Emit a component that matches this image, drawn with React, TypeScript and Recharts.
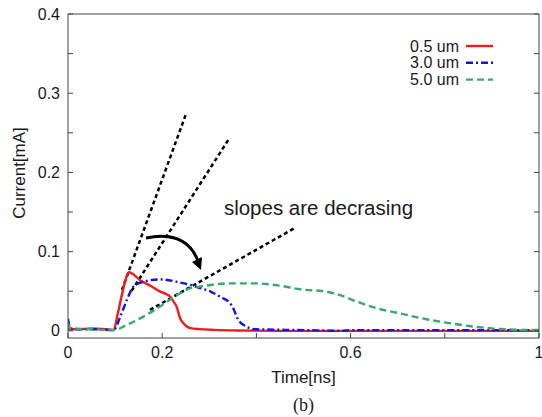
import { LineChart, Line, XAxis, YAxis, ReferenceLine, ReferenceDot, Legend, Customized, Label } from "recharts";

// 0.5 um
const t05 = [0, 0.02, 0.05, 0.08, 0.097, 0.105, 0.115, 0.122, 0.129, 0.135, 0.153, 0.175, 0.196, 0.21, 0.217, 0.224, 0.231, 0.238, 0.245, 0.26, 0.28, 0.31, 0.36, 0.45, 0.6, 0.8, 1.0];
const i05 = [0.002, 0.002, 0.003, 0.002, 0.001, 0.02, 0.047, 0.064, 0.074, 0.073, 0.064, 0.057, 0.0495, 0.046, 0.043, 0.037, 0.03, 0.016, 0.0097, 0.0035, 0.0022, 0.0013, 0.0005, 0, 0, 0, 0];
// 3.0 um
const t30 = [0, 0.005, 0.03, 0.06, 0.097, 0.111, 0.125, 0.139, 0.16, 0.196, 0.238, 0.26, 0.281, 0.305, 0.323, 0.344, 0.352, 0.358, 0.372, 0.4, 0.5, 0.58, 0.6, 0.8, 1.0];
const i30 = [0.015, 0.003, 0.002, 0.002, 0.001, 0.018, 0.039, 0.056, 0.062, 0.065, 0.061, 0.058, 0.054, 0.049, 0.043, 0.035, 0.027, 0.018, 0.0076, 0.002, 0.001, 0, 0.001, 0.001, 0.001];
// 5.0 um
const t50 = [0, 0.005, 0.05, 0.097, 0.125, 0.16, 0.196, 0.231, 0.26, 0.281, 0.344, 0.394, 0.45, 0.493, 0.549, 0.578, 0.613, 0.655, 0.705, 0.761, 0.81, 0.86, 0.895, 0.95, 1.0];
const i50 = [0.01, 0.003, 0.002, 0.001, 0.0076, 0.018, 0.031, 0.045, 0.054, 0.056, 0.06, 0.06, 0.057, 0.0525, 0.0495, 0.045, 0.037, 0.0286, 0.022, 0.0147, 0.0097, 0.0055, 0.0034, 0.0015, 0.001];

const xTicks = [0, 0.2, 0.4, 0.6, 0.8, 1];
const xLabels = [0, 0.2, 0.6, 1];
const yTicks = [0, 0.05, 0.1, 0.15, 0.2, 0.25, 0.3, 0.35, 0.4];
const yLabels = [0, 0.1, 0.2, 0.3, 0.4];

// tangent lines: [t0, i0, t1, i1]
const slopeLines = [
  [0.1146, 0.0517, 0.2505, 0.2738],
  [0.135, 0.0505, 0.3403, 0.241],
  [0.174, 0.0265, 0.482, 0.13],
];

const series = [
  { name: "0.5 um", t: t05, i: i05, color: "#ee1c1c", dash: undefined },
  { name: "3.0 um", t: t30, i: i30, color: "#1414e6", dash: "7 3 2 3" },
  { name: "5.0 um", t: t50, i: i50, color: "#3aa76d", dash: "7 4" },
];

const AXIS = "#444";
const INK = "#1a1a1a";
const FONT = "'Liberation Sans', Arial, Helvetica, sans-serif";

const BottomTick = ({ x, y, payload }: any) => (
  <g>
    <line x1={x} x2={x} y1={y} y2={y - 5} stroke={AXIS} />
    {xLabels.includes(payload.value) && (
      <text x={x} y={y + 20} textAnchor="middle" fontSize={16} fill={INK}>{String(payload.value)}</text>
    )}
  </g>
);
const TopTick = ({ x, y }: any) => <line x1={x} x2={x} y1={y} y2={y + 5} stroke={AXIS} />;
const LeftTick = ({ x, y, payload }: any) => (
  <g>
    <line x1={x} x2={x + 5} y1={y} y2={y} stroke={AXIS} />
    {yLabels.includes(payload.value) && (
      <text x={x - 8} y={y} dy="0.35em" textAnchor="end" fontSize={16} fill={INK}>{String(payload.value)}</text>
    )}
  </g>
);
const RightTick = ({ x, y }: any) => <line x1={x} x2={x - 5} y1={y} y2={y} stroke={AXIS} />;

const LegendBox = () => (
  <svg width={150} height={58}>
    {series.map((s, k) => (
      <g key={s.name}>
        <text x={79} y={10 + k * 16.8} dy="0.35em" textAnchor="end" fontSize={16} fill={INK} fontFamily={FONT}>{s.name}</text>
        <line x1={86} x2={113} y1={10 + k * 16.8} y2={10 + k * 16.8} stroke={s.color} strokeWidth={2.4} strokeDasharray={s.dash} />
      </g>
    ))}
  </svg>
);

// curved arrow next to the tangents
const Arrow = () => (
  <g>
    <path d="M146,238 Q186,230 198,261" fill="none" stroke="#000" strokeWidth={3} />
    <path d="M201,270 L192,262 L202,257 Z" fill="#000" />
  </g>
);

export default function App() {
  return (
    <div style={{ position: "absolute", left: 0, top: 0, width: 542, height: 417, background: "#fff", fontFamily: FONT }}>
      <LineChart width={542} height={417} margin={{ top: 0, right: 0, bottom: 0, left: 0 }}>
        <XAxis xAxisId={0} dataKey="t" type="number" domain={[0, 1]} ticks={xTicks} height={79}
          stroke={AXIS} tickSize={0} tickMargin={0} tickLine={false} tick={BottomTick} interval={0} allowDataOverflow>
          <Label content={({ viewBox }: any) => {
            const cx = viewBox.x + viewBox.width / 2;
            return (
              <g>
                <text x={cx} y={viewBox.y + 45} textAnchor="middle" fontSize={17} fill={INK}>Time[ns]</text>
                <text x={cx} y={viewBox.y + 73} textAnchor="middle" fontSize={18} fill={INK} fontFamily="'Liberation Serif', 'Times New Roman', serif">(b)</text>
              </g>
            );
          }} />
        </XAxis>
        <XAxis xAxisId="t" orientation="top" type="number" domain={[0, 1]} ticks={xTicks} height={14}
          stroke={AXIS} tickSize={0} tickMargin={0} tickLine={false} tick={TopTick} interval={0} allowDataOverflow />
        <YAxis yAxisId={0} type="number" domain={[-0.009, 0.4]} ticks={yTicks} width={68}
          stroke={AXIS} tickSize={0} tickMargin={0} tickLine={false} tick={LeftTick} interval={0} allowDataOverflow>
          <Label content={({ viewBox }: any) => {
            const cy = viewBox.y + 159;
            return (
              <text x={19} y={cy} transform={`rotate(-90, 19, ${cy})`} dy="0.35em" textAnchor="middle" fontSize={17} fill={INK}>Current[mA]</text>
            );
          }} />
        </YAxis>
        <YAxis yAxisId="r" orientation="right" type="number" domain={[-0.009, 0.4]} ticks={yTicks} width={3}
          stroke={AXIS} tickSize={0} tickMargin={0} tickLine={false} tick={RightTick} interval={0} allowDataOverflow />

        {slopeLines.map((s, k) => (
          <ReferenceLine key={k} segment={[{ x: s[0], y: s[1] }, { x: s[2], y: s[3] }]}
            stroke="#000" strokeWidth={2.5} strokeDasharray="4 3" ifOverflow="visible" />
        ))}

        {series.map((s) => (
          <Line key={s.name} name={s.name} data={s.t.map((t, k) => ({ t, i: s.i[k] }))} dataKey="i" type="monotone"
            stroke={s.color} strokeWidth={2.4} strokeDasharray={s.dash} dot={false} isAnimationActive={false} />
        ))}

        <ReferenceDot x={0.331} y={0.156} r={0} fill="none" stroke="none" ifOverflow="visible"
          label={{ value: "slopes are decrasing", position: "right", offset: 0, fontSize: 20.5, fill: INK }} />
        <Customized component={Arrow} />

        <Legend layout="vertical" align="center" verticalAlign="middle" content={LegendBox}
          wrapperStyle={{ left: 380, top: 36, width: 150, height: 58 }} />
      </LineChart>
    </div>
  );
}
